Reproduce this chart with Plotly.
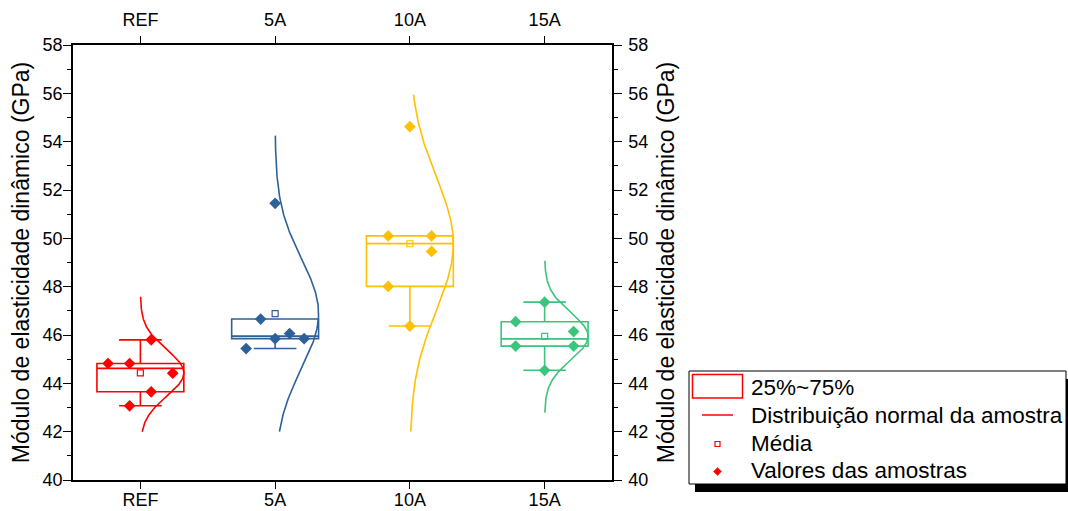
import numpy as np
import plotly.graph_objects as go

# ---- data ----
categories = ["REF", "5A", "10A", "15A"]
ref_vals = [44.82, 44.82, 45.80, 44.42, 43.65, 43.07]
a5_vals = [51.45, 46.66, 46.06, 45.85, 45.85, 45.44]
a10_vals = [54.62, 50.10, 50.10, 49.46, 48.01, 46.37]
a15_vals = [47.36, 46.55, 46.14, 45.54, 45.54, 44.54]
curve_lo = [42.0, 42.0, 42.0, 42.79]
curve_hi = [47.58, 54.25, 55.95, 49.07]
legend_labels = ["25%~75%", "Distribuição normal da amostra", "Média", "Valores das amostras"]

# ---- styling / layout ----
colors = ["#FF0000", "#2E6199", "#FFC000", "#3CC47C"]
jitter_step = [0.080, 0.1076, 0.161, 0.215]
jitter_slots = [[-3, -1, 1, 3, 1, -1],
                [0, -1, 1, 0, 2, -2],
                [0, -1, 1, 1, -1, 0],
                [0, -1, 1, -1, 1, 0]]
box_width = 0.645
FONT = "Arial, Liberation Sans, sans-serif"


def box_stats(v):
    s = np.sort(np.asarray(v, dtype=float))
    n = len(s)
    med = np.median(s)
    q1 = np.median(s[: n // 2])
    q3 = np.median(s[(n + 1) // 2:])
    iqr = q3 - q1
    lo = s[s >= q1 - 1.5 * iqr].min()
    hi = s[s <= q3 + 1.5 * iqr].max()
    return q1, med, q3, lo, hi


groups = [ref_vals, a5_vals, a10_vals, a15_vals]
fig = go.Figure()

for i, (cat, vals, col) in enumerate(zip(categories, groups, colors)):
    pos = i + 1
    vals = np.array(vals)
    q1, med, q3, lo, hi = box_stats(vals)
    fig.add_trace(go.Box(
        x=[pos], q1=[q1], median=[med], q3=[q3], lowerfence=[lo], upperfence=[hi],
        width=box_width, boxpoints=False, whiskerwidth=0.49,
        line=dict(color=col, width=1.6), fillcolor="rgba(255,255,255,0)",
        name=legend_labels[0], showlegend=False, hoverinfo="skip"))
    mu, sd = vals.mean(), vals.std(ddof=1)
    yy = np.linspace(curve_lo[i], curve_hi[i], 200)
    dens = np.exp(-0.5 * ((yy - mu) / sd) ** 2)
    fig.add_trace(go.Scatter(
        x=pos + dens * box_width / 2, y=yy, mode="lines",
        line=dict(color=col, width=1.6),
        name=legend_labels[1], showlegend=False, hoverinfo="skip"))
    fig.add_trace(go.Scatter(
        x=[pos], y=[mu], mode="markers",
        marker=dict(symbol="square-open", size=6, color=col, line=dict(width=1.2, color=col)),
        name=legend_labels[2], showlegend=False))
    xs = [pos + s * jitter_step[i] for s in jitter_slots[i]]
    fig.add_trace(go.Scatter(
        x=xs, y=vals, mode="markers",
        marker=dict(symbol="diamond", size=9, color=col),
        name=legend_labels[3], showlegend=False))

# invisible trace to activate the top / right axes
fig.add_trace(go.Scatter(x=[1], y=[50], xaxis="x2", yaxis="y2", mode="markers",
                         marker=dict(opacity=0), showlegend=False, hoverinfo="skip"))

W, H = 1068, 511
L, R, T, B = 73, 612, 45, 480
pw, ph = R - L, B - T


def px_x(px):
    return (px - L) / pw


def px_y(py):
    return (B - py) / ph


title_txt = "Módulo de elasticidade dinâmico (GPa)"
xcommon = dict(range=[0.5, 4.5], tickmode="array", tickvals=[1, 2, 3, 4], ticktext=categories,
               ticks="outside", ticklen=7, tickwidth=1.3, tickcolor="black",
               showline=True, linecolor="black", linewidth=1.5, showgrid=False,
               zeroline=False, tickfont=dict(size=18, color="black", family=FONT))
ycommon = dict(range=[40, 58], dtick=2, tick0=40, ticks="outside", ticklen=8, tickwidth=1.3,
               tickcolor="black", showline=True, linecolor="black", linewidth=1.5,
               showgrid=False, zeroline=False,
               minor=dict(dtick=1, ticks="outside", ticklen=4, tickwidth=1.3, tickcolor="black", showgrid=False),
               tickfont=dict(size=18, color="black", family=FONT))

# ---- custom legend (frame, shadow, glyphs, texts) ----
red = colors[0]
lg = dict(x0=689, y0=371, x1=1066, y1=484, shadow=(6, 8))
shapes = [
    dict(type="rect", xref="paper", yref="paper",
         x0=px_x(lg["x0"] + lg["shadow"][0]), x1=px_x(lg["x1"] + lg["shadow"][0]),
         y0=px_y(lg["y0"] + lg["shadow"][1]), y1=px_y(lg["y1"] + lg["shadow"][1]),
         fillcolor="black", line=dict(width=0)),
    dict(type="rect", xref="paper", yref="paper",
         x0=px_x(lg["x0"]), x1=px_x(lg["x1"]), y0=px_y(lg["y0"]), y1=px_y(lg["y1"]),
         fillcolor="white", line=dict(color="black", width=1)),
]
row_y = [387.5, 415.5, 443.5, 470.5]
gx = 717.5
shapes.append(dict(type="rect", xref="paper", yref="paper",
                   x0=px_x(692.5), x1=px_x(742.5), y0=px_y(374.5), y1=px_y(398),
                   line=dict(color=red, width=1.5), fillcolor="rgba(0,0,0,0)"))
shapes.append(dict(type="line", xref="paper", yref="paper",
                   x0=px_x(702), x1=px_x(733), y0=px_y(415), y1=px_y(415),
                   line=dict(color=red, width=1.5)))
shapes.append(dict(type="rect", xref="paper", yref="paper",
                   x0=px_x(gx - 2.5), x1=px_x(gx + 2.5), y0=px_y(441.5), y1=px_y(446.5),
                   line=dict(color=red, width=1.2), fillcolor="white"))
d = 4
shapes.append(dict(type="path", xref="paper", yref="paper",
                   path=f"M {px_x(gx)} {px_y(471.5 - d)} L {px_x(gx + d)} {px_y(471.5)} "
                        f"L {px_x(gx)} {px_y(471.5 + d)} L {px_x(gx - d)} {px_y(471.5)} Z",
                   fillcolor=red, line=dict(color=red, width=0.5)))

annotations = []
for lab, yc in zip(legend_labels, row_y):
    annotations.append(dict(text=lab, xref="paper", yref="paper", x=px_x(749), y=px_y(yc),
                            xanchor="left", yanchor="middle", showarrow=False,
                            font=dict(size=22.5, color="black", family=FONT)))

fig.update_layout(
    width=W, height=H,
    margin=dict(l=L, r=W - R, t=T, b=H - B, pad=0, autoexpand=False),
    paper_bgcolor="white", plot_bgcolor="white",
    boxmode="overlay",
    font=dict(family=FONT, color="black"),
    xaxis=dict(**xcommon, side="bottom", ticklabelstandoff=-4),
    xaxis2=dict(**xcommon, side="top", overlaying="x", matches="x", ticklabelstandoff=3),
    yaxis=dict(**ycommon, side="left", ticklabelstandoff=-3,
               title=dict(text=title_txt, font=dict(size=23, color="black", family=FONT), standoff=7)),
    yaxis2=dict(**ycommon, side="right", overlaying="y", matches="y", ticklabelstandoff=3,
                title=dict(text=title_txt, font=dict(size=23, color="black", family=FONT), standoff=11)),
    shapes=shapes, annotations=annotations,
    showlegend=False,
)

fig.write_html("out.html")
